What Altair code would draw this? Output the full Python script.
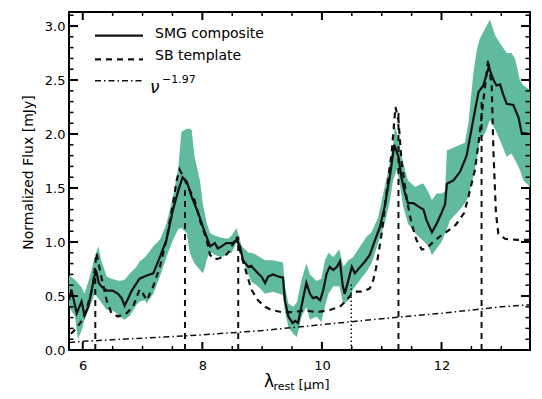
import altair as alt
import pandas as pd

# ---------------- data ----------------
smg_x = [5.77, 5.81, 5.90, 5.98, 6.03, 6.09, 6.15, 6.19, 6.23, 6.27, 6.31, 6.40, 6.50, 6.59, 6.65, 6.70,
         6.76, 6.82, 6.95, 7.07, 7.18, 7.29, 7.40, 7.51, 7.60, 7.67, 7.74, 7.82, 7.93, 8.01, 8.07, 8.13,
         8.21, 8.26, 8.32, 8.40, 8.52, 8.57, 8.63, 8.68, 8.77, 8.82, 8.88, 8.93, 8.99, 9.05, 9.10, 9.18,
         9.27, 9.35, 9.38, 9.44, 9.51, 9.55, 9.60, 9.69, 9.74, 9.80, 9.85, 9.91, 9.97, 10.02, 10.08, 10.13,
         10.19, 10.25, 10.30, 10.35, 10.38, 10.44, 10.50, 10.55, 10.64, 10.72, 10.80, 10.89, 10.97, 11.05,
         11.14, 11.21, 11.28, 11.33, 11.39, 11.44, 11.53, 11.61, 11.70, 11.75, 11.84, 11.92, 12.00, 12.06,
         12.09, 12.20, 12.31, 12.42, 12.53, 12.62, 12.70, 12.79, 12.87, 12.92, 12.98, 13.03, 13.09, 13.20,
         13.29, 13.34, 13.48]
smg_y = [0.46, 0.56, 0.34, 0.45, 0.32, 0.40, 0.55, 0.68, 0.72, 0.62, 0.59, 0.55, 0.55, 0.52, 0.48, 0.41,
         0.48, 0.55, 0.66, 0.69, 0.71, 0.86, 1.02, 1.30, 1.48, 1.60, 1.56, 1.42, 1.27, 1.14, 1.05, 0.96,
         0.99, 0.94, 0.96, 0.99, 0.99, 1.02, 0.96, 0.83, 0.77, 0.78, 0.74, 0.71, 0.68, 0.62, 0.68, 0.70,
         0.68, 0.67, 0.46, 0.31, 0.25, 0.27, 0.25, 0.49, 0.62, 0.52, 0.48, 0.49, 0.46, 0.55, 0.71, 0.77,
         0.74, 0.77, 0.82, 0.59, 0.52, 0.64, 0.77, 0.71, 0.77, 0.82, 0.88, 1.02, 1.14, 1.33,
         1.62, 1.90, 1.79, 1.60, 1.45, 1.36, 1.36, 1.33, 1.30, 1.20, 1.09, 1.17, 1.27, 1.35,
         1.54, 1.57, 1.65, 1.80, 2.13, 2.39, 2.45, 2.62, 2.50, 2.45, 2.46, 2.37, 2.28, 2.27,
         2.15, 2.01, 2.00]

band_x = [5.77, 5.87, 5.92, 5.98, 6.03, 6.12, 6.20, 6.26, 6.31, 6.40, 6.48, 6.54, 6.62, 6.70, 6.79, 6.90,
          6.95, 7.04, 7.07, 7.18, 7.29, 7.40, 7.51, 7.60, 7.65, 7.74, 7.79, 7.82, 7.87, 7.96, 8.01, 8.04,
          8.07, 8.13, 8.21, 8.32, 8.43, 8.49, 8.57, 8.66, 8.74, 8.77, 8.82, 8.88, 8.93, 9.05, 9.18, 9.35,
          9.38, 9.44, 9.52, 9.58, 9.66, 9.74, 9.80, 9.91, 9.99, 10.05, 10.11, 10.19, 10.29, 10.36, 10.44,
          10.52, 10.64, 10.75, 10.83, 10.94, 11.05, 11.14, 11.19, 11.22, 11.25, 11.28, 11.31, 11.36, 11.44,
          11.56, 11.67, 11.70, 11.78, 11.84, 11.92, 12.00, 12.06, 12.09, 12.14, 12.31, 12.39, 12.45, 12.53,
          12.59, 12.64, 12.73, 12.81, 12.90, 12.98, 13.09, 13.17, 13.23, 13.31, 13.37, 13.48]
band_lo = [0.40, 0.31, 0.10, 0.18, 0.28, 0.40, 0.52, 0.48, 0.44, 0.37, 0.37, 0.35, 0.31, 0.28, 0.32, 0.42,
           0.45, 0.46, 0.43, 0.52, 0.68, 0.86, 1.02, 1.12, 1.13, 1.08, 0.90, 0.86, 0.80, 0.74, 0.71, 0.76,
           0.83, 0.91, 0.88, 0.86, 0.89, 0.90, 0.99, 0.86, 0.74, 0.70, 0.63, 0.61, 0.59, 0.52, 0.54, 0.51,
           0.36, 0.21, 0.15, 0.12, 0.31, 0.40, 0.28, 0.31, 0.26, 0.40, 0.52, 0.59, 0.59, 0.42, 0.46,
           0.56, 0.65, 0.73, 0.80, 0.99, 1.17, 1.39, 1.57, 1.62, 1.67, 1.60, 1.51, 1.33, 1.17,
           1.08, 1.02, 1.01, 0.96, 0.88, 0.94, 1.00, 1.08, 1.12, 1.20, 1.30, 1.36, 1.42, 1.60,
           1.76, 1.94, 2.01, 2.13, 2.04, 1.94, 1.79, 1.82, 1.76, 1.67, 1.57, 1.51]
band_hi = [0.69, 0.65, 0.62, 0.58, 0.52, 0.68, 0.86, 0.96, 0.83, 0.68, 0.66, 0.65, 0.64, 0.65, 0.71, 0.77,
           0.82, 0.86, 0.88, 0.96, 1.02, 1.17, 1.42, 1.70, 2.02, 2.05, 2.05, 2.04, 1.79, 1.57, 1.35, 1.27,
           1.18, 1.08, 1.06, 1.04, 1.03, 1.06, 1.13, 0.96, 0.92, 0.90, 0.90, 0.89, 0.87, 0.83, 0.83, 0.81,
           0.59, 0.43, 0.40, 0.44, 0.65, 0.80, 0.70, 0.64, 0.66, 0.83, 0.90, 0.86, 0.93, 0.77, 0.83,
           0.86, 0.96, 1.05, 1.09, 1.23, 1.51, 1.75, 1.90, 2.07, 2.02, 1.95, 1.86, 1.73, 1.57,
           1.51, 1.54, 1.54, 1.46, 1.39, 1.45, 1.45, 1.47, 1.85, 1.86, 1.90, 1.92, 2.10, 2.55,
           2.78, 2.88, 2.98, 3.06, 2.91, 2.84, 2.75, 2.75, 2.70, 2.50, 2.45, 2.41]

sb_x = [5.80, 5.84, 5.96, 6.06, 6.17, 6.23, 6.31, 6.40, 6.48, 6.59, 6.73, 6.84, 6.95, 7.01, 7.07, 7.18,
        7.29, 7.40, 7.51, 7.57, 7.62, 7.71, 7.79, 7.87, 7.96, 8.07, 8.13, 8.20, 8.29, 8.38, 8.46, 8.57,
        8.66, 8.74, 8.82, 8.93, 9.05, 9.16, 9.33, 9.55, 9.69, 9.91, 10.13, 10.30, 10.41, 10.50, 10.58,
        10.69, 10.80, 10.86, 10.91, 11.00, 11.08, 11.17, 11.23, 11.28, 11.33, 11.42, 11.50, 11.58, 11.67,
        11.75, 11.86, 11.97, 12.10, 12.24, 12.38, 12.45, 12.56, 12.64, 12.70, 12.78, 12.84, 12.87, 12.91,
        12.95, 13.06, 13.26, 13.48]
sb_y = [0.15, 0.17, 0.25, 0.37, 0.59, 0.90, 0.68, 0.46, 0.34, 0.31, 0.34, 0.40, 0.56, 0.52, 0.46, 0.59,
        0.77, 1.02, 1.36, 1.57, 1.67, 1.57, 1.48, 1.39, 1.20, 1.02, 0.88, 0.84, 0.85, 0.87, 0.92, 1.05,
        0.86, 0.71, 0.56, 0.46, 0.40, 0.37, 0.35, 0.35, 0.37, 0.35, 0.37, 0.40, 0.46, 0.52, 0.54,
        0.54, 0.57, 0.65, 0.77, 1.08, 1.45, 1.85, 2.25, 2.13, 1.76, 1.39, 1.17, 1.02, 0.93,
        0.94, 1.00, 1.05, 1.10, 1.16, 1.27, 1.42, 1.67, 2.01, 2.31, 2.69, 2.44, 1.82, 1.27,
        1.08, 1.03, 1.02, 1.02]

pl_x = [5.77, 6.0, 7.0, 8.0, 9.0, 10.0, 11.0, 12.0, 13.0, 13.48]
pl_y = [0.07, 0.08, 0.11, 0.14, 0.18, 0.235, 0.29, 0.34, 0.40, 0.42]

feat_x = [6.21, 7.71, 8.60, 11.28, 12.67]
feat_top = [0.75, 1.50, 1.05, 2.20, 2.30]
sil_x = [10.49]
sil_top = [0.62]

x_major = [6, 8, 10, 12]
x_minor = [6.5, 7, 7.5, 8.5, 9, 9.5, 10.5, 11, 11.5, 12.5, 13]
y_major = [0.0, 0.5, 1.0, 1.5, 2.0, 2.5, 3.0]
y_minor = [0.1, 0.2, 0.3, 0.4, 0.6, 0.7, 0.8, 0.9, 1.1, 1.2, 1.3, 1.4, 1.6, 1.7, 1.8, 1.9,
           2.1, 2.2, 2.3, 2.4, 2.6, 2.7, 2.8, 2.9, 3.1]

legend_labels = ["SMG composite", "SB template"]

# ---------------- chart ----------------
W, H = 461, 338
FONT = "DejaVu Sans"
BAND = "#5fba9f"
INK = "#111111"
DASH = [6, 5]
DASHDOT = [6, 3, 1.5, 3]

xs = alt.Scale(domain=[5.77, 13.48], nice=False, zero=False)
ys = alt.Scale(domain=[0, 3.13], nice=False, zero=False)

x_axis = alt.Axis(values=x_major, format="d", ticks=False, tickSize=0, domain=False, grid=False,
                  labelFont=FONT, labelFontSize=13, labelColor="black", labelPadding=9, title=None)
y_axis = alt.Axis(values=y_major, format=".1f", ticks=False, tickSize=0, domain=False, grid=False,
                  labelFont=FONT, labelFontSize=13, labelColor="black", labelPadding=4,
                  title="Normalized Flux [mJy]", titleFont=FONT, titleFontSize=14,
                  titleFontWeight="normal", titleColor="black", titleX=-41, titleY=160,
                  titleAngle=270, titleAlign="center", titleBaseline="middle")

smg = pd.DataFrame({"x": smg_x, "y": smg_y})
band = pd.DataFrame({"x": band_x, "lo": band_lo, "hi": band_hi})
sb = pd.DataFrame({"x": sb_x, "y": sb_y})
pl = pd.DataFrame({"x": pl_x, "y": pl_y})
feat = pd.DataFrame({"x": feat_x, "base": [0.0] * len(feat_x), "top": feat_top})
sil = pd.DataFrame({"x": sil_x, "base": [0.0] * len(sil_x), "top": sil_top})
one = pd.DataFrame({"k": [0]})


def X(f="x"):
    return alt.X(f"{f}:Q", scale=xs, axis=x_axis, title=None)


def Y(f="y"):
    return alt.Y(f"{f}:Q", scale=ys, axis=y_axis, title="Normalized Flux [mJy]")


feat_layer = alt.Chart(feat).mark_rule(color=INK, strokeWidth=2, strokeDash=DASH).encode(
    x=X(), y=Y("base"), y2="top:Q")
sil_layer = alt.Chart(sil).mark_rule(color=INK, strokeWidth=1.5, strokeDash=[1.5, 2.5]).encode(
    x=X(), y=Y("base"), y2="top:Q")
band_layer = alt.Chart(band).mark_area(color=BAND, opacity=1).encode(
    x=X(), y=Y("lo"), y2="hi:Q")
pl_layer = alt.Chart(pl).mark_line(color=INK, strokeWidth=1.5, strokeDash=DASHDOT).encode(x=X(), y=Y())
sb_layer = alt.Chart(sb).mark_line(color=INK, strokeWidth=2.2, strokeDash=DASH).encode(x=X(), y=Y())
smg_layer = alt.Chart(smg).mark_line(color=INK, strokeWidth=2.2).encode(x=X(), y=Y())

# inward ticks on all four sides
tick_layers = []
for vals, size, wdt in [(x_major, 8, 2), (x_minor, 4, 1.5)]:
    d = pd.DataFrame({"t": vals})
    tick_layers.append(alt.Chart(d).mark_rule(color="black", strokeWidth=wdt).encode(
        x=X("t"), y=alt.value(H), y2=alt.value(H - size)))
    tick_layers.append(alt.Chart(d).mark_rule(color="black", strokeWidth=wdt).encode(
        x=X("t"), y=alt.value(0), y2=alt.value(size)))
for vals, size, wdt in [(y_major, 9, 2), (y_minor, 4.5, 1.5)]:
    d = pd.DataFrame({"t": vals})
    tick_layers.append(alt.Chart(d).mark_rule(color="black", strokeWidth=wdt).encode(
        y=Y("t"), x=alt.value(0), x2=alt.value(size)))
    tick_layers.append(alt.Chart(d).mark_rule(color="black", strokeWidth=wdt).encode(
        y=Y("t"), x=alt.value(W), x2=alt.value(W - size)))

# legend (inside, top-left)
leg = [
    alt.Chart(one).mark_rule(color=INK, strokeWidth=2.2).encode(
        x=alt.value(26), x2=alt.value(74), y=alt.value(23.7)),
    alt.Chart(one).mark_rule(color=INK, strokeWidth=2.2, strokeDash=DASH).encode(
        x=alt.value(26), x2=alt.value(74), y=alt.value(47.3)),
    alt.Chart(one).mark_rule(color=INK, strokeWidth=1.5, strokeDash=DASHDOT).encode(
        x=alt.value(26), x2=alt.value(74), y=alt.value(68.7)),
    alt.Chart(one).mark_text(text=legend_labels[0], align="left", baseline="middle", font=FONT,
                             fontSize=14, color="black").encode(x=alt.value(86), y=alt.value(21.5)),
    alt.Chart(one).mark_text(text=legend_labels[1], align="left", baseline="middle", font=FONT,
                             fontSize=14, color="black").encode(x=alt.value(86), y=alt.value(43.5)),
    alt.Chart(one).mark_text(text="ν", align="left", baseline="alphabetic", font=FONT,
                             fontSize=17, fontStyle="italic", color="black").encode(
        x=alt.value(81), y=alt.value(80.5)),
    alt.Chart(one).mark_text(text="−1.97", align="left", baseline="alphabetic", font=FONT,
                             fontSize=11, color="black").encode(x=alt.value(93), y=alt.value(70.5)),
]

# x-axis title with subscript
xtitle = [
    alt.Chart(one).mark_text(text="λ", align="center", baseline="alphabetic", font=FONT,
                             fontSize=17, color="black").encode(x=alt.value(200), y=alt.value(374.5)),
    alt.Chart(one).mark_text(text="rest", align="left", baseline="alphabetic", font=FONT,
                             fontSize=11, color="black").encode(x=alt.value(204.5), y=alt.value(377.5)),
    alt.Chart(one).mark_text(text="[μm]", align="left", baseline="alphabetic", font=FONT,
                             fontSize=13, color="black").encode(x=alt.value(229.5), y=alt.value(377)),
]

chart = alt.layer(
    band_layer, feat_layer, sil_layer, pl_layer, sb_layer, smg_layer, *tick_layers, *leg, *xtitle
).properties(
    width=W, height=H,
    autosize=alt.AutoSizeParams(type="none"),
    padding={"left": 61, "top": 4, "right": 4, "bottom": 41},
    background="white",
).configure_view(stroke="black", strokeWidth=2)

chart.save("out.html", embed_options={"renderer": "svg", "actions": False})
